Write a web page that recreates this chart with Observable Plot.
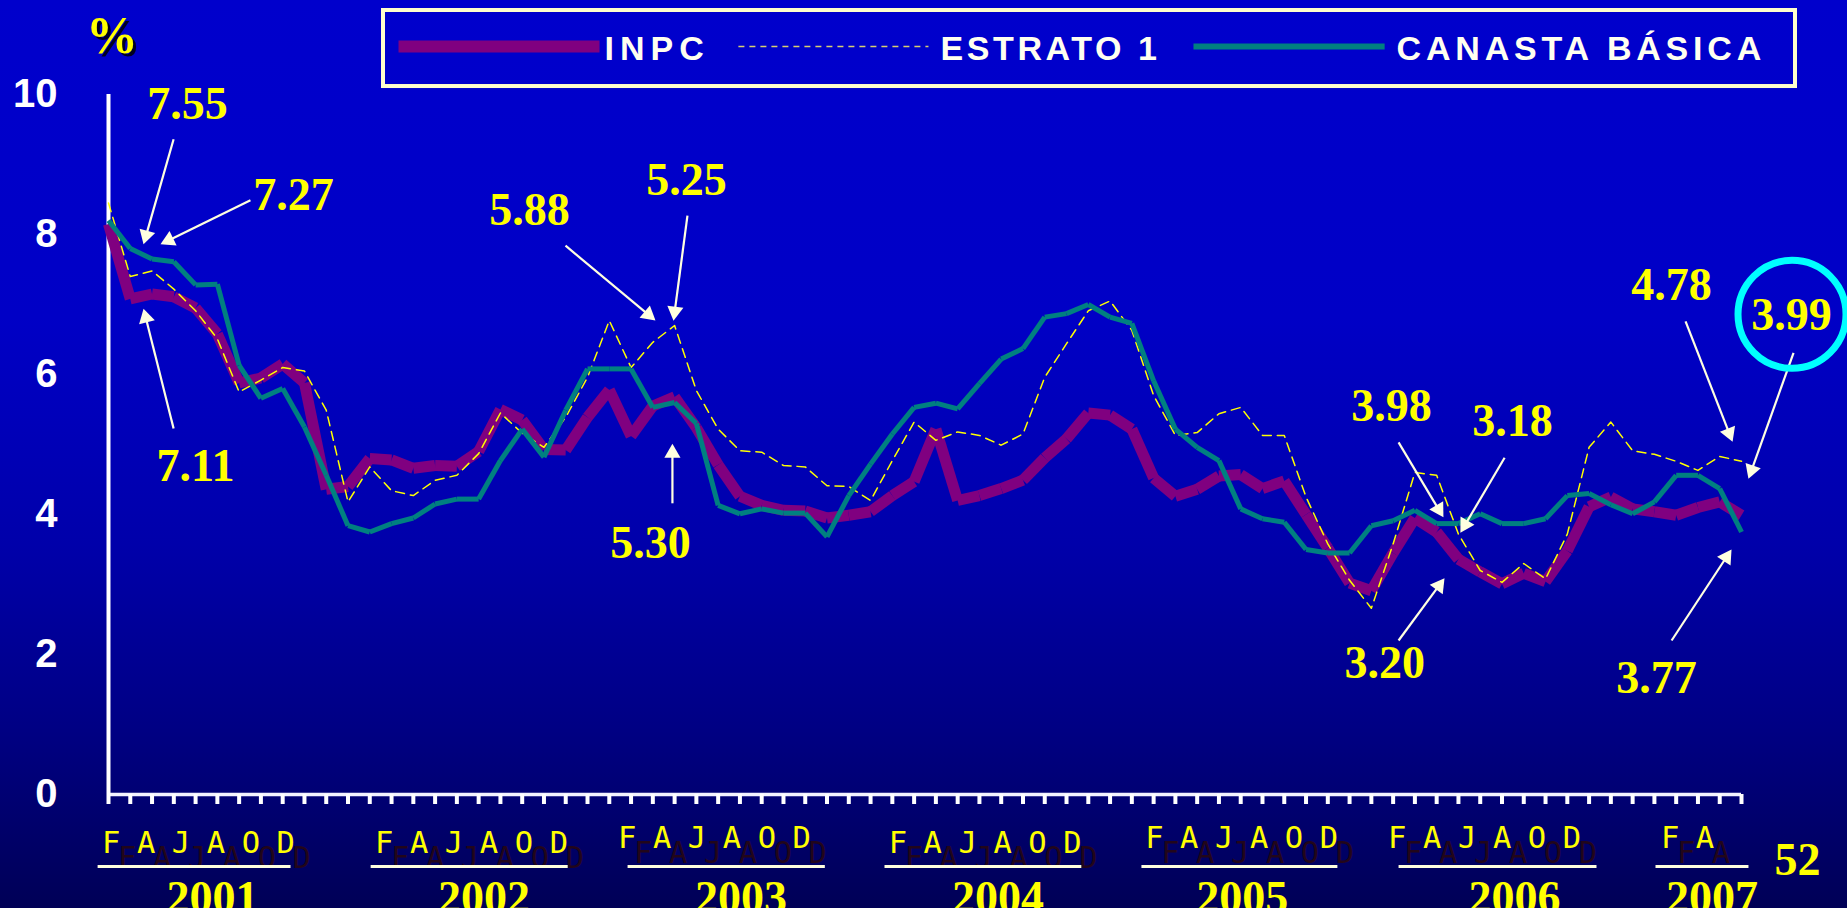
<!DOCTYPE html>
<html>
<head>
<meta charset="utf-8">
<script src="https://cdn.jsdelivr.net/npm/d3@7"></script>
<script src="https://cdn.jsdelivr.net/npm/@observablehq/plot@0.6"></script>
<style>
html, body { margin: 0; padding: 0; background: #00005a; overflow: hidden; }
#chart svg { display: block; }
</style>
</head>
<body>
<div id="chart"></div>
<script>
// ---------- DATA (monthly, Jan 2001 .. Apr 2007) ----------
const months = d3.range(76); // 0 = Jan 2001
const inpc = [
  8.15, 7.08, 7.15, 7.11, 6.95, 6.58, 5.88, 5.95, 6.15, 5.88, 4.36, 4.40,
  4.80, 4.78, 4.66, 4.70, 4.69, 4.90, 5.50, 5.35, 4.93, 4.92, 5.39, 5.78,
  5.12, 5.55, 5.68, 5.24, 4.71, 4.26, 4.13, 4.06, 4.05, 3.95, 3.99, 4.04,
  4.27, 4.47, 5.22, 4.20, 4.27, 4.37, 4.49, 4.81, 5.08, 5.45, 5.42, 5.22,
  4.52, 4.26, 4.36, 4.55, 4.57, 4.37, 4.48, 4.00, 3.52, 3.02, 2.91, 3.45,
  3.95, 3.75, 3.36, 3.18, 3.01, 3.16, 3.04, 3.48, 4.11, 4.25, 4.08, 4.04,
  3.99, 4.10, 4.18, 3.99
];
const estrato1 = [
  8.45, 7.40, 7.48, 7.22, 6.91, 6.51, 5.75, 5.92, 6.10, 6.05, 5.49, 4.18,
  4.68, 4.34, 4.27, 4.49, 4.56, 4.87, 5.45, 5.16, 4.96, 5.39, 5.96, 6.77,
  6.10, 6.46, 6.70, 5.77, 5.22, 4.91, 4.89, 4.70, 4.68, 4.41, 4.40, 4.20,
  4.77, 5.32, 5.06, 5.18, 5.13, 4.99, 5.15, 5.96, 6.44, 6.91, 7.05, 6.63,
  5.70, 5.13, 5.17, 5.44, 5.53, 5.13, 5.13, 4.25, 3.58, 3.06, 2.66, 3.58,
  4.60, 4.56, 3.72, 3.20, 3.03, 3.30, 3.08, 3.72, 4.96, 5.32, 4.91, 4.86,
  4.76, 4.63, 4.83, 4.76
];
const canasta = [
  8.20, 7.80, 7.65, 7.61, 7.28, 7.29, 6.13, 5.66, 5.80, 5.25, 4.56, 3.84,
  3.75, 3.87, 3.95, 4.15, 4.22, 4.22, 4.77, 5.22, 4.82, 5.49, 6.08, 6.08,
  6.08, 5.53, 5.60, 5.30, 4.13, 4.01, 4.08, 4.02, 4.02, 3.68, 4.27, 4.72,
  5.15, 5.53, 5.59, 5.51, 5.87, 6.22, 6.37, 6.82, 6.87, 7.00, 6.82, 6.73,
  5.91, 5.22, 4.96, 4.77, 4.08, 3.94, 3.89, 3.50, 3.45, 3.45, 3.84, 3.91,
  4.06, 3.87, 3.87, 4.01, 3.87, 3.87, 3.94, 4.27, 4.30, 4.14, 4.01, 4.18,
  4.56, 4.56, 4.37, 3.75
];
const yTicks = [0, 2, 4, 6, 8, 10];
const seriesNames = ["INPC", "ESTRATO 1", "CANASTA BÁSICA"];
const years = ["2001", "2002", "2003", "2004", "2005", "2006", "2007"];
const monthLetters = ["F A J A O D", "F A J A O D", "F A J A O D", "F A J A O D", "F A J A O D", "F A J A O D", "F A"];
const slideNumber = "52";
const unitLabel = "%";
// callout values with text anchor and arrow (tail -> tip), in (month index, %) coordinates
const calloutLabels = ["7.55", "7.27", "7.11", "5.88", "5.25", "5.30", "3.98", "3.18", "3.20", "3.77", "4.78", "3.99"];
const calloutText = [[3.63, 9.86], [8.50, 8.56], [4.00, 4.69], [19.34, 8.34], [26.55, 8.77], [24.89, 3.59],
                     [58.93, 5.54], [64.48, 5.33], [58.61, 1.87], [71.10, 1.66], [71.79, 7.27], [77.30, 6.84]];
const calloutTail = [[2.99, 9.36], [6.52, 8.49], [2.99, 5.23], [20.99, 7.84], [26.59, 8.27], [25.90, 4.16],
                     [59.25, 5.03], [64.12, 4.81], [59.25, 2.20], [71.79, 2.20], [72.43, 6.76], [77.39, 6.31]];
const calloutTip = [[1.61, 7.86], [2.39, 7.86], [1.61, 6.94], [25.12, 6.77], [25.95, 6.77], [25.90, 5.01],
                    [61.31, 3.96], [62.09, 3.74], [61.36, 3.09], [74.54, 3.50], [74.59, 5.04], [75.32, 4.51]];
const highlight = {label: "3.99", x: 77.32, y: 6.86};

// ---------- LAYOUT (positions of decorative elements, in scale units) ----------
const legendBox = {x1: 12.63, x2: 77.48, y1: 10.114, y2: 11.2};
const legendRow = 10.686, legendTextRow = 10.643;
const legendSamples = [[13.32, 22.55], [28.93, 37.66], [49.83, 58.61]];
const legendTextAt = [22.78, 38.21, 59.16];
const legendSpacing = [6, 3.6, 4.8];
const monthGroupAt = [-0.3, 12.24, 23.40, 35.83, 47.61, 58.77, 71.30];
const monthGroupRow = [-0.70, -0.70, -0.628, -0.70, -0.628, -0.628, -0.628];
const yearAt = [4.78, 17.25, 29.05, 40.85, 52.07, 64.58, 73.65];
const yearUnderline = [[-0.5, 8.36], [12.04, 21.09], [23.84, 32.9], [35.64, 44.68], [47.44, 56.44], [59.25, 68.34], [71.05, 75.32]];

const purple = "#800080", teal = "#008080", yellow = "#FFFF00", cream = "#FFFFE0";
const serif = "'Liberation Serif', 'Times New Roman', serif";
const sans = "'Liberation Sans', Arial, sans-serif";
const mono = "'DejaVu Sans Mono', monospace";

const segs = arr => d3.pairs(months).map(([a, b]) => ({x1: a, y1: arr[a], x2: b, y2: arr[b]}));
const callouts = calloutLabels.map((label, i) => ({
  label, tx: calloutText[i][0], ty: calloutText[i][1],
  x1: calloutTail[i][0], y1: calloutTail[i][1], x2: calloutTip[i][0], y2: calloutTip[i][1]
}));
const groups = years.map((year, i) => ({
  year, letters: monthLetters[i], at: monthGroupAt[i], row: monthGroupRow[i],
  yearAt: yearAt[i], u1: yearUnderline[i][0], u2: yearUnderline[i][1]
}));
const legendItems = seriesNames.map((name, i) => ({
  name, s1: legendSamples[i][0], s2: legendSamples[i][1], t: legendTextAt[i]
}));

function build(heads) {
  return Plot.plot({
    width: 1847, height: 908,
    marginLeft: 108, marginRight: 106, marginTop: 94, marginBottom: 114,
    x: {domain: [0, 75], axis: null},
    y: {domain: [0, 10], axis: null},
    style: {
      background: "linear-gradient(to bottom, #0000cc 0%, #0000c6 35%, #0000aa 60%, #000084 80%, #000056 100%)",
      overflow: "visible"
    },
    marks: [
      // axes
      Plot.ruleY([0], {stroke: "#f2f2ff", strokeWidth: 3.5}),
      Plot.axisX({ticks: months, tickSize: 10, tickFormat: () => "", stroke: "white", strokeWidth: 4}),
      Plot.ruleX([0], {y1: 0, y2: 10, stroke: "white", strokeWidth: 4}),
      Plot.text(yTicks, {x: 0, y: d => d, text: d => String(d), textAnchor: "end", dx: -51,
        fontSize: 40, fontWeight: "bold", fontFamily: sans, fill: "white"}),
      // series
      Plot.link(segs(inpc), {x1: "x1", y1: "y1", x2: "x2", y2: "y2", stroke: purple, strokeWidth: 11}),
      Plot.line(months, {x: d => d, y: d => estrato1[d], stroke: yellow, strokeWidth: 1.5, strokeDasharray: "9,6"}),
      Plot.link(segs(canasta), {x1: "x1", y1: "y1", x2: "x2", y2: "y2", stroke: teal, strokeWidth: 5}),
      // callouts
      heads ? Plot.link(callouts, {x1: "x1", y1: "y1", x2: (d, i) => heads[i].x, y2: (d, i) => heads[i].y,
        stroke: cream, strokeWidth: 2.2}) : null,
      heads ? Plot.dot(heads, {x: "x", y: "y", rotate: "rotate", symbol: "triangle", r: 6, fill: cream}) : null,
      Plot.text(callouts, {x: "tx", y: "ty", text: "label", fontSize: 46, fontWeight: "bold",
        fontFamily: serif, fill: yellow}),
      Plot.dot([highlight], {x: "x", y: "y", r: 54, stroke: "#00ffff", strokeWidth: 7, fill: "none"}),
      // legend
      Plot.rect([legendBox], {x1: "x1", x2: "x2", y1: "y1", y2: "y2", stroke: "#ffffcc", strokeWidth: 4, fill: "none"}),
      Plot.link([legendItems[0]], {x1: "s1", x2: "s2", y1: legendRow, y2: legendRow, stroke: purple, strokeWidth: 12}),
      Plot.link([legendItems[1]], {x1: "s1", x2: "s2", y1: legendRow, y2: legendRow, stroke: "#d8d070", strokeWidth: 1.5, strokeDasharray: "6,5"}),
      Plot.link([legendItems[2]], {x1: "s1", x2: "s2", y1: legendRow, y2: legendRow, stroke: teal, strokeWidth: 6}),
      Plot.text(legendItems, {x: "t", y: legendTextRow, text: "name", textAnchor: "start", fontSize: 34,
        fontWeight: "bold", fontFamily: sans, fill: "#fffff0"}),
      // month letters (with dark shadow), underline and years
      Plot.text(groups, {x: "at", y: "row", text: "letters", textAnchor: "start", dx: 16, dy: 15,
        fontSize: 30.5, fontFamily: mono, fill: "#22061a"}),
      Plot.text(groups, {x: "at", y: "row", text: "letters", textAnchor: "start",
        fontSize: 30.5, fontFamily: mono, fill: yellow}),
      Plot.link(groups, {x1: "u1", x2: "u2", y1: -1.029, y2: -1.029, stroke: "#ffffe0", strokeWidth: 3}),
      Plot.text(groups, {x: "yearAt", y: -1.486, text: "year", fontSize: 46, fontWeight: "bold",
        fontFamily: serif, fill: yellow}),
      Plot.text([slideNumber], {x: 77.57, y: -0.943, text: d => d, fontSize: 46, fontWeight: "bold",
        fontFamily: serif, fill: yellow}),
      Plot.text([unitLabel], {x: 0.16, y: 10.837, text: d => d, dx: 3, dy: 3, fontSize: 52, fontWeight: "bold",
        fontFamily: serif, fill: "#000022"}),
      Plot.text([unitLabel], {x: 0.16, y: 10.837, text: d => d, fontSize: 52, fontWeight: "bold",
        fontFamily: serif, fill: yellow})
    ]
  });
}

// first pass: get the scales, then place filled arrow heads along each arrow direction
const pre = build(null);
const sx = pre.scale("x"), sy = pre.scale("y");
const heads = callouts.map(c => {
  const X1 = sx.apply(c.x1), Y1 = sy.apply(c.y1), X2 = sx.apply(c.x2), Y2 = sy.apply(c.y2);
  const dx = X2 - X1, dy = Y2 - Y1, L = Math.hypot(dx, dy);
  const ux = dx / L, uy = dy / L;
  const back = 9.3; // triangle centroid to tip
  return {x: sx.invert(X2 - ux * back), y: sy.invert(Y2 - uy * back), rotate: Math.atan2(ux, -uy) * 180 / Math.PI};
});
const chart = build(heads);
// letter-spaced legend labels, slightly tightened month letters
d3.select(chart).selectAll("text").each(function () {
  const t = this.textContent;
  const k = seriesNames.indexOf(t);
  if (k >= 0) this.style.letterSpacing = legendSpacing[k] + "px";
  if (monthLetters.includes(t)) this.style.letterSpacing = "-0.9px";
});
document.getElementById("chart").append(chart);
</script>
</body>
</html>
